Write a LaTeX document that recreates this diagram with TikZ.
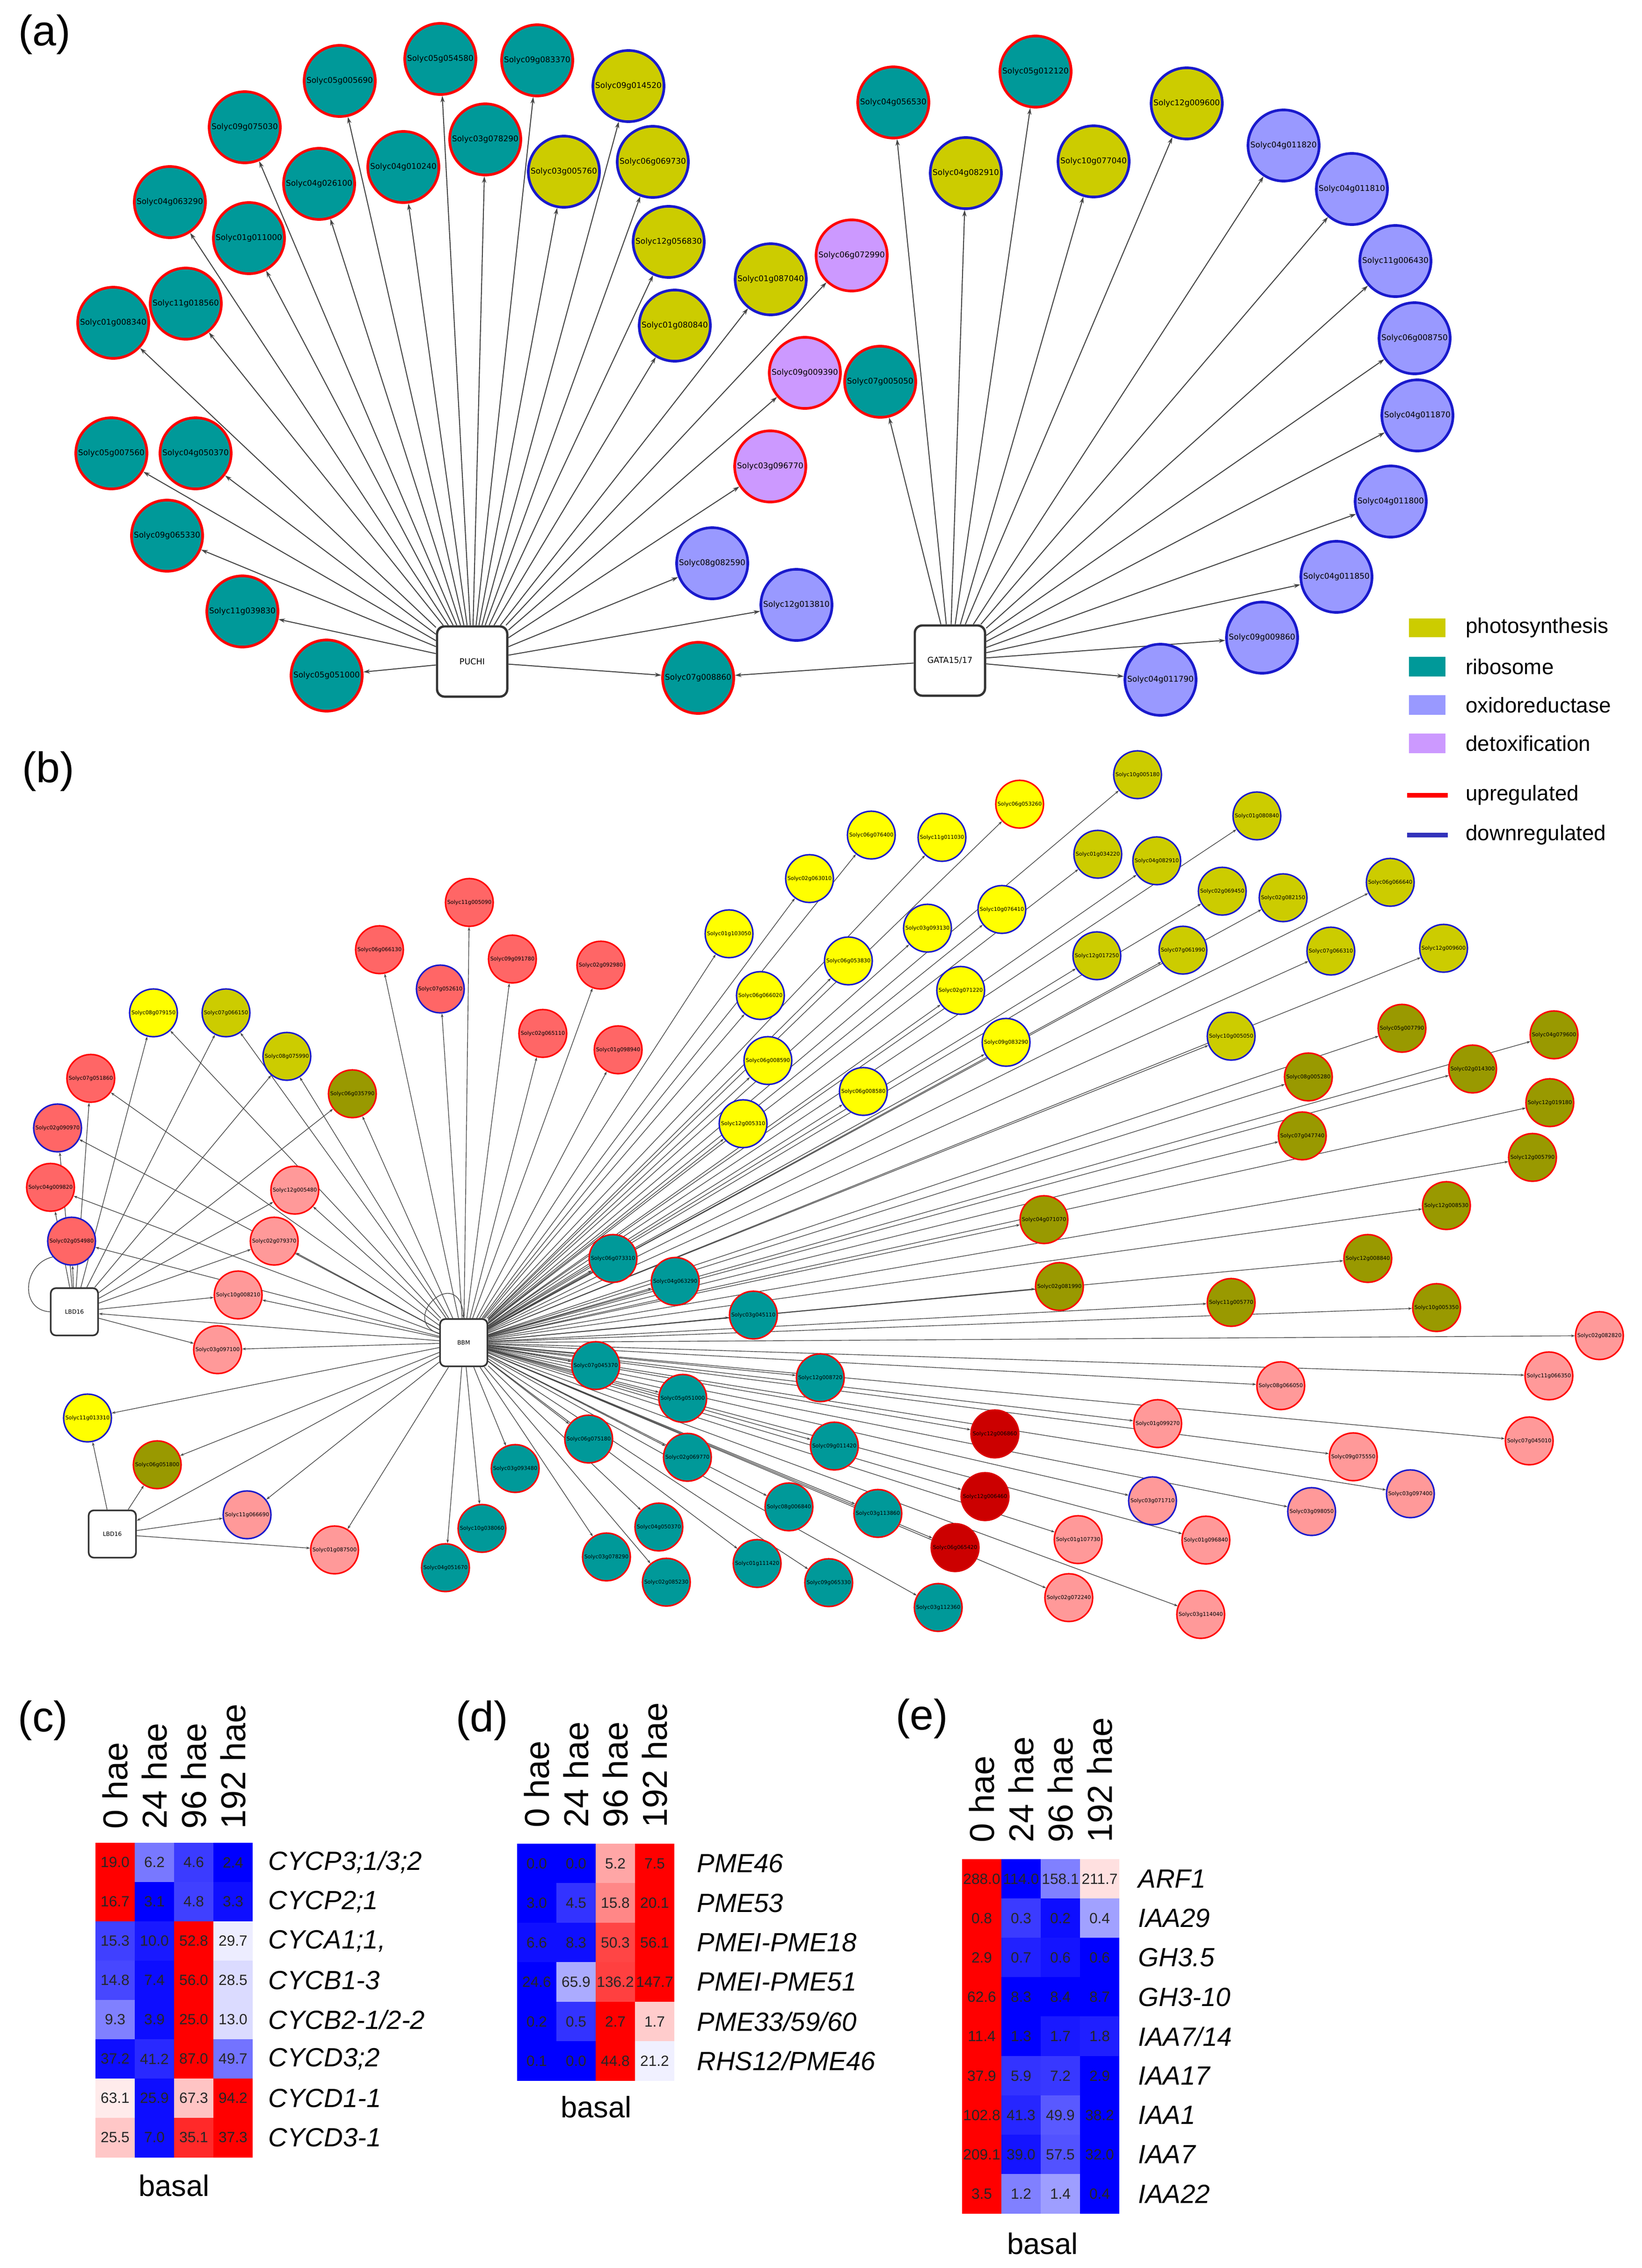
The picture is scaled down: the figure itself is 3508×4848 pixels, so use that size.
\documentclass[tikz,border=0pt]{standalone}
\usepackage{fontspec}
\setmainfont{Liberation Sans}
\newfontfamily\genefont{DejaVu Sans}
\usetikzlibrary{arrows.meta,backgrounds}

\definecolor{ribo}{HTML}{009999}
\definecolor{photo}{HTML}{CCCC00}
\definecolor{oxido}{HTML}{9999FF}
\definecolor{detox}{HTML}{CC99FF}
\definecolor{upreg}{HTML}{FF0000}
\definecolor{downreg}{HTML}{1A1ACC}
\definecolor{downleg}{HTML}{3333BB}
\definecolor{salmon}{HTML}{FF6666}
\definecolor{pinkish}{HTML}{FF9999}
\definecolor{yellowish}{HTML}{FFFF00}
\definecolor{darkolive}{HTML}{999900}
\definecolor{deepred}{HTML}{CC0000}
\definecolor{edgegray}{HTML}{454545}
\definecolor{boxgray}{HTML}{333333}

\tikzset{
  geneA/.style={circle, minimum size=1.52cm, inner sep=0pt, line width=1.6pt,
    font=\genefont\fontsize{4.8}{5}\selectfont},
  geneB/.style={circle, minimum size=1.02cm, inner sep=0pt, line width=0.9pt,
    font=\genefont\fontsize{3.2}{3.4}\selectfont},
  riboA/.style={geneA, fill=ribo, draw=upreg},
  photoA/.style={geneA, fill=photo, draw=downreg},
  oxiA/.style={geneA, fill=oxido, draw=downreg},
  detoxA/.style={geneA, fill=detox, draw=upreg},
  salU/.style={geneB, fill=salmon, draw=upreg},
  salD/.style={geneB, fill=salmon, draw=downreg},
  pnkU/.style={geneB, fill=pinkish, draw=upreg},
  pnkD/.style={geneB, fill=pinkish, draw=downreg},
  yelD/.style={geneB, fill=yellowish, draw=downreg},
  yelU/.style={geneB, fill=yellowish, draw=upreg},
  phoD/.style={geneB, fill=photo, draw=downreg},
  olvU/.style={geneB, fill=darkolive, draw=upreg},
  ribU/.style={geneB, fill=ribo, draw=upreg},
  dredU/.style={geneB, fill=deepred, draw=deepred!70!red},
  tfA/.style={draw=boxgray, fill=white, rounded corners=0.16cm, minimum size=1.5cm,
    line width=1.4pt, font=\genefont\fontsize{5}{6}\selectfont},
  tfB/.style={draw=boxgray, fill=white, rounded corners=0.11cm, minimum size=1.01cm,
    line width=1pt, font=\genefont\fontsize{3.5}{4}\selectfont},
  edgeA/.style={-{Stealth[length=1.4mm,width=0.9mm]}, draw=edgegray, line width=0.6pt},
  edgeB/.style={-{Stealth[length=0.8mm,width=0.55mm]}, draw=edgegray, line width=0.4pt},
  panel/.style={font=\fontsize{26}{30}\selectfont},
  legtext/.style={anchor=west, font=\fontsize{13}{15}\selectfont},
  hcell/.style={minimum width=0.845cm, minimum height=0.85cm, inner sep=0pt,
    text=black!85, font=\fontsize{9}{10}\selectfont},
  hhead/.style={rotate=90, anchor=west, inner sep=0pt, font=\fontsize{21}{24}\selectfont},
  hrow/.style={anchor=west, inner sep=0pt, font=\itshape\fontsize{16}{18}\selectfont},
  hfoot/.style={font=\fontsize{18}{20}\selectfont}
}

\begin{document}
\begin{tikzpicture}[x=0.01cm, y=-0.01cm]
  \useasboundingbox (0,0) rectangle (3508,4848);

  % panel letters
  \node[panel] (la) at (95,74) {(a)};
  \node[panel] (lb) at (103,1649) {(b)};
  \node[panel] (lc) at (92,3678) {(c)};
  \node[panel] (ld) at (1030,3678) {(d)};
  \node[panel] (le) at (1970,3674) {(e)};

  % ===== (a) PUCHI targets =====
  \node[riboA] (a05g054580) at (941,126) {Solyc05g054580};
  \node[riboA] (a09g083370) at (1148,129) {Solyc09g083370};
  \node[photoA] (a09g014520) at (1343,184) {Solyc09g014520};
  \node[riboA] (a05g005690) at (726,173) {Solyc05g005690};
  \node[riboA] (a09g075030) at (523,272) {Solyc09g075030};
  \node[riboA] (a03g078290) at (1037,298) {Solyc03g078290};
  \node[riboA] (a04g010240) at (862,357) {Solyc04g010240};
  \node[photoA] (a03g005760) at (1205,367) {Solyc03g005760};
  \node[photoA] (a06g069730) at (1395,346) {Solyc06g069730};
  \node[riboA] (a04g026100) at (682,393) {Solyc04g026100};
  \node[riboA] (a04g063290) at (363,432) {Solyc04g063290};
  \node[riboA] (a01g011000) at (532,509) {Solyc01g011000};
  \node[photoA] (a12g056830) at (1429,517) {Solyc12g056830};
  \node[photoA] (a01g087040) at (1647,597) {Solyc01g087040};
  \node[riboA] (a11g018560) at (397,649) {Solyc11g018560};
  \node[riboA] (a01g008340) at (242,690) {Solyc01g008340};
  \node[photoA] (a01g080840) at (1442,696) {Solyc01g080840};
  \node[detoxA] (a06g072990) at (1820,546) {Solyc06g072990};
  \node[detoxA] (a09g009390) at (1720,797) {Solyc09g009390};
  \node[riboA] (a05g007560) at (238,969) {Solyc05g007560};
  \node[riboA] (a04g050370) at (418,969) {Solyc04g050370};
  \node[detoxA] (a03g096770) at (1646,997) {Solyc03g096770};
  \node[riboA] (a09g065330) at (357,1145) {Solyc09g065330};
  \node[oxiA] (a08g082590) at (1522,1204) {Solyc08g082590};
  \node[oxiA] (a12g013810) at (1702,1293) {Solyc12g013810};
  \node[riboA] (a11g039830) at (518,1307) {Solyc11g039830};
  \node[riboA] (a05g051000) at (698,1444) {Solyc05g051000};
  \node[riboA] (a07g008860) at (1492,1449) {Solyc07g008860};

  % ===== (a) GATA15/17 targets =====
  \node[riboA] (a04g056530) at (1909,219) {Solyc04g056530};
  \node[riboA] (a05g012120) at (2213,153) {Solyc05g012120};
  \node[photoA] (a04g082910) at (2064,370) {Solyc04g082910};
  \node[photoA] (a10g077040) at (2337,345) {Solyc10g077040};
  \node[photoA] (a12g009600) at (2536,221) {Solyc12g009600};
  \node[oxiA] (a04g011820) at (2743,311) {Solyc04g011820};
  \node[oxiA] (a04g011810) at (2889,404) {Solyc04g011810};
  \node[oxiA] (a11g006430) at (2982,558) {Solyc11g006430};
  \node[oxiA] (a06g008750) at (3023,723) {Solyc06g008750};
  \node[oxiA] (a04g011870) at (3029,888) {Solyc04g011870};
  \node[oxiA] (a04g011800) at (2972,1072) {Solyc04g011800};
  \node[oxiA] (a04g011850) at (2856,1233) {Solyc04g011850};
  \node[oxiA] (a09g009860) at (2697,1363) {Solyc09g009860};
  \node[oxiA] (a04g011790) at (2480,1453) {Solyc04g011790};
  \node[riboA] (a07g005050) at (1881,816) {Solyc07g005050};

  \node[tfA] (puchi) at (1009,1414) {PUCHI};
  \node[tfA] (gata) at (2030,1412) {GATA15/17};

  % legend
  \fill[photo] (3011,1322) rectangle (3089,1362);
  \node[legtext] (lgphoto) at (3120,1342) {photosynthesis};
  \fill[ribo] (3011,1404) rectangle (3089,1446);
  \node[legtext] (lgribo) at (3120,1425) {ribosome};
  \fill[oxido] (3011,1486) rectangle (3089,1528);
  \node[legtext] (lgoxi) at (3120,1507) {oxidoreductase};
  \fill[detox] (3011,1568) rectangle (3089,1610);
  \node[legtext] (lgdetox) at (3120,1589) {detoxification};
  \draw[upreg, line width=3pt] (3007,1700) -- (3094,1700);
  \node[legtext] (lgup) at (3120,1700) {upregulated};
  \draw[downleg, line width=3pt] (3007,1785) -- (3094,1785);
  \node[legtext] (lgdown) at (3120,1785) {downregulated};

  % ===== (b) network =====
  \node[tfB] (lbdA) at (159,2804) {LBD16};
  \node[tfB] (lbdB) at (240,3279) {LBD16};
  \node[tfB] (bbm) at (991,2870) {BBM};

  % red-brown nodes
  \node[salU] (b11g005090) at (1003,1929) {Solyc11g005090};
  \node[salU] (b06g066130) at (811,2030) {Solyc06g066130};
  \node[salU] (b09g091780) at (1095,2050) {Solyc09g091780};
  \node[salD] (b07g052610) at (941,2114) {Solyc07g052610};
  \node[salU] (b02g065110) at (1160,2209) {Solyc02g065110};
  \node[salU] (b02g092980) at (1284,2063) {Solyc02g092980};
  \node[salU] (b01g098940) at (1321,2244) {Solyc01g098940};
  \node[salU] (b07g051860) at (194,2305) {Solyc07g051860};
  \node[salD] (b02g090970) at (123,2411) {Solyc02g090970};
  \node[salU] (b04g009820) at (108,2538) {Solyc04g009820};
  \node[salD] (b02g054980) at (153,2653) {Solyc02g054980};

  % yellow nodes
  \node[yelD] (b08g079150) at (328,2165) {Solyc08g079150};
  \node[yelD] (b11g013310) at (187,3031) {Solyc11g013310};
  \node[yelD] (b01g103050) at (1558,1996) {Solyc01g103050};
  \node[yelD] (b02g063010) at (1730,1878) {Solyc02g063010};
  \node[yelD] (b06g076400) at (1862,1785) {Solyc06g076400};
  \node[yelD] (b11g011030) at (2013,1790) {Solyc11g011030};
  \node[yelU] (b06g053260) at (2179,1719) {Solyc06g053260};
  \node[yelD] (b06g053830) at (1813,2054) {Solyc06g053830};
  \node[yelD] (b03g093130) at (1982,1984) {Solyc03g093130};
  \node[yelD] (b10g076410) at (2141,1944) {Solyc10g076410};
  \node[yelD] (b06g066020) at (1625,2128) {Solyc06g066020};
  \node[yelD] (b02g071220) at (2053,2117) {Solyc02g071220};
  \node[yelD] (b06g008590) at (1641,2267) {Solyc06g008590};
  \node[yelD] (b09g083290) at (2150,2228) {Solyc09g083290};
  \node[yelD] (b06g008580) at (1845,2333) {Solyc06g008580};
  \node[yelD] (b12g005310) at (1588,2402) {Solyc12g005310};

  % photosynthesis nodes
  \node[phoD] (b07g066150) at (483,2165) {Solyc07g066150};
  \node[phoD] (b08g075990) at (613,2258) {Solyc08g075990};
  \node[phoD] (b10g005180) at (2431,1656) {Solyc10g005180};
  \node[phoD] (b01g080840) at (2686,1744) {Solyc01g080840};
  \node[phoD] (b01g034220) at (2346,1826) {Solyc01g034220};
  \node[phoD] (b04g082910) at (2472,1840) {Solyc04g082910};
  \node[phoD] (b02g069450) at (2612,1905) {Solyc02g069450};
  \node[phoD] (b02g082150) at (2742,1919) {Solyc02g082150};
  \node[phoD] (b06g066640) at (2971,1886) {Solyc06g066640};
  \node[phoD] (b12g017250) at (2344,2043) {Solyc12g017250};
  \node[phoD] (b07g061990) at (2528,2031) {Solyc07g061990};
  \node[phoD] (b07g066310) at (2844,2033) {Solyc07g066310};
  \node[phoD] (b12g009600) at (3085,2027) {Solyc12g009600};
  \node[phoD] (b10g005050) at (2631,2215) {Solyc10g005050};

  % dark olive nodes
  \node[olvU] (b06g035790) at (753,2338) {Solyc06g035790};
  \node[olvU] (b06g051800) at (336,3131) {Solyc06g051800};
  \node[olvU] (b05g007790) at (2996,2198) {Solyc05g007790};
  \node[olvU] (b08g005280) at (2796,2302) {Solyc08g005280};
  \node[olvU] (b02g014300) at (3147,2285) {Solyc02g014300};
  \node[olvU] (b04g079600) at (3321,2212) {Solyc04g079600};
  \node[olvU] (b12g019180) at (3312,2357) {Solyc12g019180};
  \node[olvU] (b07g047740) at (2783,2428) {Solyc07g047740};
  \node[olvU] (b12g005790) at (3275,2474) {Solyc12g005790};
  \node[olvU] (b12g008530) at (3091,2577) {Solyc12g008530};
  \node[olvU] (b12g008840) at (2923,2690) {Solyc12g008840};
  \node[olvU] (b11g005770) at (2631,2784) {Solyc11g005770};
  \node[olvU] (b10g005350) at (3070,2795) {Solyc10g005350};
  \node[olvU] (b04g071070) at (2231,2607) {Solyc04g071070};
  \node[olvU] (b02g081990) at (2264,2750) {Solyc02g081990};

  % pink nodes
  \node[pnkU] (b12g005480) at (630,2544) {Solyc12g005480};
  \node[pnkU] (b02g079370) at (586,2653) {Solyc02g079370};
  \node[pnkU] (b10g008210) at (509,2768) {Solyc10g008210};
  \node[pnkU] (b03g097100) at (465,2885) {Solyc03g097100};
  \node[pnkD] (b11g066690) at (528,3238) {Solyc11g066690};
  \node[pnkU] (b01g087500) at (715,3313) {Solyc01g087500};
  \node[pnkU] (b02g082820) at (3418,2855) {Solyc02g082820};
  \node[pnkU] (b11g066350) at (3310,2941) {Solyc11g066350};
  \node[pnkU] (b08g066050) at (2737,2962) {Solyc08g066050};
  \node[pnkU] (b01g099270) at (2474,3043) {Solyc01g099270};
  \node[pnkU] (b07g045010) at (3268,3080) {Solyc07g045010};
  \node[pnkU] (b09g075550) at (2892,3114) {Solyc09g075550};
  \node[pnkD] (b03g097400) at (3014,3193) {Solyc03g097400};
  \node[pnkD] (b03g071710) at (2463,3208) {Solyc03g071710};
  \node[pnkD] (b03g098050) at (2803,3231) {Solyc03g098050};
  \node[pnkU] (b01g096840) at (2577,3292) {Solyc01g096840};
  \node[pnkU] (b03g114040) at (2566,3451) {Solyc03g114040};
  \node[pnkU] (b01g107730) at (2304,3291) {Solyc01g107730};
  \node[pnkU] (b02g072240) at (2284,3415) {Solyc02g072240};

  % ribosome nodes
  \node[ribU] (b03g093480) at (1101,3139) {Solyc03g093480};
  \node[ribU] (b10g038060) at (1030,3267) {Solyc10g038060};
  \node[ribU] (b04g051670) at (952,3351) {Solyc04g051670};
  \node[ribU] (b06g073310) at (1310,2690) {Solyc06g073310};
  \node[ribU] (b04g063290) at (1443,2739) {Solyc04g063290};
  \node[ribU] (b03g045110) at (1610,2811) {Solyc03g045110};
  \node[ribU] (b07g045370) at (1273,2919) {Solyc07g045370};
  \node[ribU] (b12g008720) at (1753,2945) {Solyc12g008720};
  \node[ribU] (b05g051000) at (1459,2989) {Solyc05g051000};
  \node[ribU] (b06g075180) at (1258,3076) {Solyc06g075180};
  \node[ribU] (b09g011420) at (1783,3091) {Solyc09g011420};
  \node[ribU] (b02g069770) at (1469,3115) {Solyc02g069770};
  \node[ribU] (b08g006840) at (1686,3221) {Solyc08g006840};
  \node[ribU] (b03g113860) at (1876,3235) {Solyc03g113860};
  \node[ribU] (b04g050370) at (1408,3264) {Solyc04g050370};
  \node[ribU] (b03g078290) at (1296,3328) {Solyc03g078290};
  \node[ribU] (b02g085230) at (1424,3382) {Solyc02g085230};
  \node[ribU] (b01g111420) at (1618,3342) {Solyc01g111420};
  \node[ribU] (b09g065330) at (1771,3383) {Solyc09g065330};
  \node[ribU] (b03g112360) at (2005,3436) {Solyc03g112360};

  % dark red nodes
  \node[dredU] (b12g006860) at (2126,3065) {Solyc12g006860};
  \node[dredU] (b12g006460) at (2105,3199) {Solyc12g006460};
  \node[dredU] (b06g065420) at (2041,3308) {Solyc06g065420};

  % ===== connectors =====
  \begin{scope}[on background layer]
    \fill[white] (0,0) rectangle (3508,4848);
    \foreach \t in {a05g054580,a09g083370,a09g014520,a05g005690,a09g075030,a03g078290,
        a04g010240,a03g005760,a06g069730,a04g026100,a04g063290,a01g011000,a12g056830,
        a01g087040,a11g018560,a01g008340,a01g080840,a06g072990,a09g009390,a05g007560,
        a04g050370,a03g096770,a09g065330,a08g082590,a12g013810,a11g039830,a05g051000,
        a07g008860}
      \draw[edgeA] (puchi) -- (\t);
    \foreach \t in {a04g056530,a05g012120,a04g082910,a10g077040,a12g009600,a04g011820,
        a04g011810,a11g006430,a06g008750,a04g011870,a04g011800,a04g011850,a09g009860,
        a04g011790,a07g005050,a07g008860}
      \draw[edgeA] (gata) -- (\t);

    % BBM to all targets
    \foreach \t in {lbdA,lbdB,b11g005090,b06g066130,b09g091780,b07g052610,b02g065110,
        b02g092980,b01g098940,b07g051860,b02g090970,b04g009820,b02g054980,
        b08g079150,b11g013310,b01g103050,b02g063010,b06g076400,b11g011030,b06g053260,
        b06g053830,b03g093130,b10g076410,b06g066020,b02g071220,b06g008590,b09g083290,
        b06g008580,b12g005310,b07g066150,b08g075990,b10g005180,b01g080840,b01g034220,
        b04g082910,b02g069450,b02g082150,b06g066640,b12g017250,b07g061990,b07g066310,
        b12g009600,b10g005050,b06g035790,b06g051800,b05g007790,b08g005280,b02g014300,
        b04g079600,b12g019180,b07g047740,b12g005790,b12g008530,b12g008840,b11g005770,
        b10g005350,b04g071070,b02g081990,b12g005480,b02g079370,b10g008210,b03g097100,
        b11g066690,b01g087500,b02g082820,b11g066350,b08g066050,b01g099270,b07g045010,
        b09g075550,b03g097400,b03g071710,b03g098050,b01g096840,b03g114040,b01g107730,
        b02g072240,b03g093480,b10g038060,b04g051670,b06g073310,b04g063290,b03g045110,
        b07g045370,b12g008720,b05g051000,b06g075180,b09g011420,b02g069770,b08g006840,
        b03g113860,b04g050370,b03g078290,b02g085230,b01g111420,b09g065330,b03g112360,
        b12g006860,b12g006460,b06g065420}
      \draw[edgeB] (bbm) -- (\t);

    % LBD16 targets
    \foreach \t in {b02g090970,b04g009820,b02g054980,b07g051860,b08g079150,b07g066150,
        b08g075990,b06g035790,b12g005480,b02g079370,b10g008210,b03g097100}
      \draw[edgeB] (lbdA) -- (\t);
    \foreach \t in {b11g013310,b06g051800,b11g066690,b01g087500}
      \draw[edgeB] (lbdB) -- (\t);

    % loops
    \draw[edgeB] (bbm.160) .. controls +(-90,-30) and +(-10,-120) .. (bbm.north);
    \draw[edgeB, -] (lbdA.west) .. controls (40,2800) and (50,2700) .. (b02g054980.220);
  \end{scope}

  % ===== (c) heatmap =====
  \foreach \va/\ca/\vb/\cb/\vc/\cc/\vd/\cd [count=\r] in {
      19.0/red/6.2/blue!53/4.6/blue!77/2.4/blue,
      16.7/red/3.1/blue/4.8/blue!75/3.3/blue!94,
      15.3/blue!75/10.0/blue!90/52.8/red/29.7/blue!7,
      14.8/blue!72/7.4/blue!95/56.0/red/28.5/blue!14,
      9.3/blue!50/3.9/blue!95/25.0/red/13.0/blue!14,
      37.2/blue!95/41.2/blue!84/87.0/red/49.7/blue!55,
      63.1/red!8/25.9/blue!95/67.3/red!23/94.2/red,
      25.5/red!22/7.0/blue!95/35.1/red!84/37.3/red}{
    \node[hcell, fill=\ca] (c\r-1) at (246,3897+84*\r) {\va};
    \node[hcell, fill=\cb] (c\r-2) at (330,3897+84*\r) {\vb};
    \node[hcell, fill=\cc] (c\r-3) at (414,3897+84*\r) {\vc};
    \node[hcell, fill=\cd] (c\r-4) at (498,3897+84*\r) {\vd};
  }
  \foreach \h [count=\k] in {0 hae,24 hae,96 hae,192 hae}
    \node[hhead] (ch\k) at (162+84*\k,3910) {\h};
  \foreach \lab [count=\r] in {{CYCP3;1/3;2},{CYCP2;1},{CYCA1;1,},{CYCB1-3},
      {CYCB2-1/2-2},{CYCD3;2},{CYCD1-1},{CYCD3-1}}
    \node[hrow] (cl\r) at (573,3897+84*\r) {\lab};
  \node[hfoot] (cbasal) at (372,4672) {basal};

  % ===== (d) heatmap =====
  \foreach \va/\ca/\vb/\cb/\vc/\cc/\vd/\cd [count=\r] in {
      0.0/blue/0.0/blue/5.2/red!35/7.5/red,
      3.0/blue/4.5/blue!80/15.8/red!47/20.1/red,
      6.6/blue!94/8.3/blue!94/50.3/red!73/56.1/red,
      24.6/blue/65.9/blue!33/136.2/red!75/147.7/red,
      0.2/blue/0.5/blue!80/2.7/red/1.7/red!20,
      0.1/blue/0.0/blue/44.8/red/21.2/blue!6}{
    \node[hcell, fill=\ca] (d\r-1) at (1147,3898.75+84.5*\r) {\va};
    \node[hcell, fill=\cb] (d\r-2) at (1231,3898.75+84.5*\r) {\vb};
    \node[hcell, fill=\cc] (d\r-3) at (1315,3898.75+84.5*\r) {\vc};
    \node[hcell, fill=\cd] (d\r-4) at (1399,3898.75+84.5*\r) {\vd};
  }
  \foreach \h [count=\k] in {0 hae,24 hae,96 hae,192 hae}
    \node[hhead] (dh\k) at (1063+84*\k,3907) {\h};
  \foreach \lab [count=\r] in {PME46,PME53,PMEI-PME18,PMEI-PME51,{PME33/59/60},{RHS12/PME46}}
    \node[hrow] (dl\r) at (1489,3898.75+84.5*\r) {\lab};
  \node[hfoot] (dbasal) at (1274,4504) {basal};

  % ===== (e) heatmap =====
  \foreach \va/\ca/\vb/\cb/\vc/\cc/\vd/\cd [count=\r] in {
      288.0/red/114.0/blue/158.1/blue!50/211.7/red!12,
      0.8/red/0.3/blue!77/0.2/blue!95/0.4/blue!37,
      2.9/red/0.7/blue!87/0.6/blue!92/0.6/blue,
      62.6/red/8.3/blue/8.4/blue/8.7/blue,
      11.4/red/1.3/blue/1.7/blue!90/1.8/blue!88,
      37.9/red/5.9/blue!80/7.2/blue!78/2.9/blue,
      102.8/red/41.3/blue!85/49.9/blue!65/38.2/blue,
      209.1/red/39.0/blue!92/57.5/blue!68/32.0/blue,
      3.5/red/1.2/blue!50/1.4/blue!38/0.4/blue}{
    \node[hcell, fill=\ca] (e\r-1) at (2098,3931.9+84.2*\r) {\va};
    \node[hcell, fill=\cb] (e\r-2) at (2182,3931.9+84.2*\r) {\vb};
    \node[hcell, fill=\cc] (e\r-3) at (2266,3931.9+84.2*\r) {\vc};
    \node[hcell, fill=\cd] (e\r-4) at (2350,3931.9+84.2*\r) {\vd};
  }
  \foreach \h [count=\k] in {0 hae,24 hae,96 hae,192 hae}
    \node[hhead] (eh\k) at (2014+84*\k,3939) {\h};
  \foreach \lab [count=\r] in {ARF1,IAA29,GH3.5,GH3-10,{IAA7/14},IAA17,IAA1,IAA7,IAA22}
    \node[hrow] (el\r) at (2432,3931.9+84.2*\r) {\lab};
  \node[hfoot] (ebasal) at (2228,4796) {basal};
\end{tikzpicture}
\end{document}
